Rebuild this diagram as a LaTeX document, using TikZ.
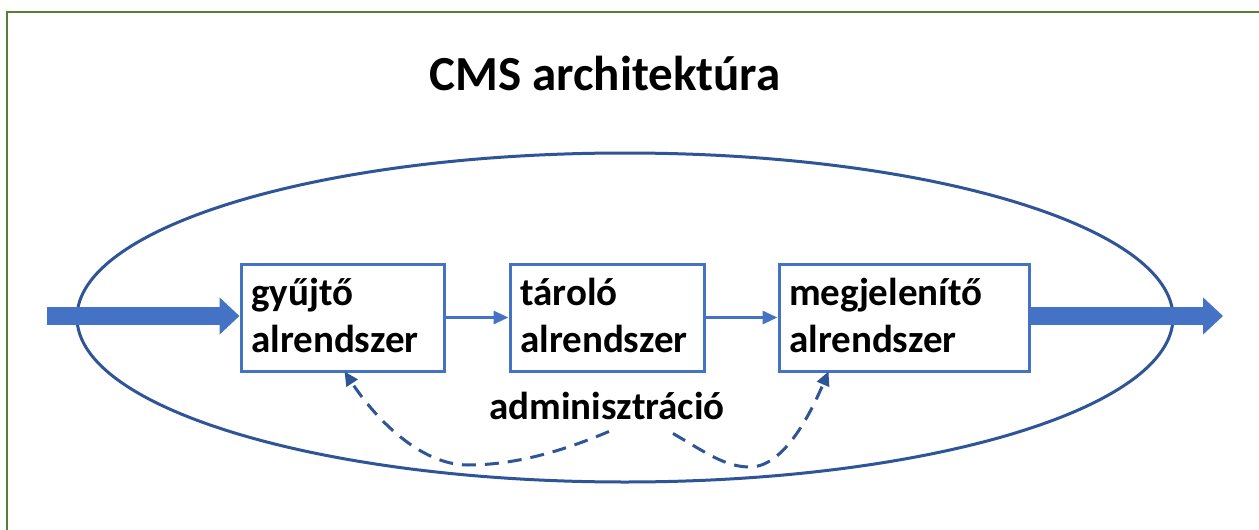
\documentclass[tikz,border=0pt]{standalone}
\usepackage{fontspec}
\setmainfont{Carlito}
\usetikzlibrary{arrows.meta,calc}
\definecolor{frameg}{RGB}{84,130,53}
\definecolor{boxblue}{RGB}{68,114,196}
\definecolor{darkblue}{RGB}{47,85,151}
\begin{document}
\begin{tikzpicture}[x=1pt,y=-1pt,
  subsys/.style={draw=boxblue,line width=3pt,fill=white,minimum height=107pt,inner sep=0pt},
  boxtext/.style={anchor=base west,inner sep=0pt,font=\fontsize{39}{47}\selectfont\bfseries,align=left},
  bigarrow/.style={draw=boxblue,line width=18pt,-{Triangle[length=20pt,width=36pt]}},
  smallarrow/.style={draw=boxblue,line width=3pt,-{Triangle[length=15pt,width=13pt]}},
  adminarrow/.style={draw=darkblue,line width=3pt,dash pattern=on 14pt off 9pt,-{Triangle[length=14pt,width=13pt]}}]
\useasboundingbox (0,0) rectangle (1259,530);
\fill[white] (0,0) rectangle (1259,530);
% frame
\draw[frameg,line width=2.5pt] (7,530) -- (7,12) -- (1259,12);
% title
\node[anchor=base,inner sep=0pt,font=\fontsize{49}{59}\selectfont\bfseries] (title) at (605,90) {CMS architektúra};
% ellipse
\draw[darkblue,line width=3pt] (625,317.5) ellipse [x radius=548, y radius=164.5];
% boxes
\node[subsys,minimum width=203pt] (b1) at (342.5,317.5) {};
\node[subsys,minimum width=194pt] (b2) at (607,317.5) {};
\node[subsys,minimum width=250pt] (b3) at (904,317.5) {};
\node[boxtext] (t1) at (251,352) {gyűjtő\\alrendszer};
\node[boxtext] (t2) at (520,352) {tároló\\alrendszer};
\node[boxtext] (t3) at (789,352) {megjelenítő\\alrendszer};
\node[anchor=base,inner sep=0pt,font=\fontsize{39}{47}\selectfont\bfseries] (adm) at (607,419) {adminisztráció};
% connectors
\coordinate (in) at (47,316);
\coordinate (out) at (1223,316);
\draw[bigarrow] (in) -- (b1.west |- in);
\draw[bigarrow] (b3.east |- out) -- (out);
\draw[smallarrow] (b1.east) -- (b2.west);
\draw[smallarrow] (b2.east) -- (b3.west);
\coordinate (s1) at ($(adm.south)+(2,12)$);
\coordinate (s2) at ($(adm.south)+(66,14)$);
\coordinate (e1) at ($(b1.south west)+(105,-1)$);
\coordinate (e2) at ($(b3.south west)+(51,-1)$);
\draw[adminarrow] (s1) .. controls (570,448) and (520,465) .. (468,465) .. controls (420,465) and (375,418) .. (e1);
\draw[adminarrow] (s2) .. controls (705,452) and (725,467) .. (750,467) .. controls (785,467) and (812,410) .. (e2);
\end{tikzpicture}
\end{document}
